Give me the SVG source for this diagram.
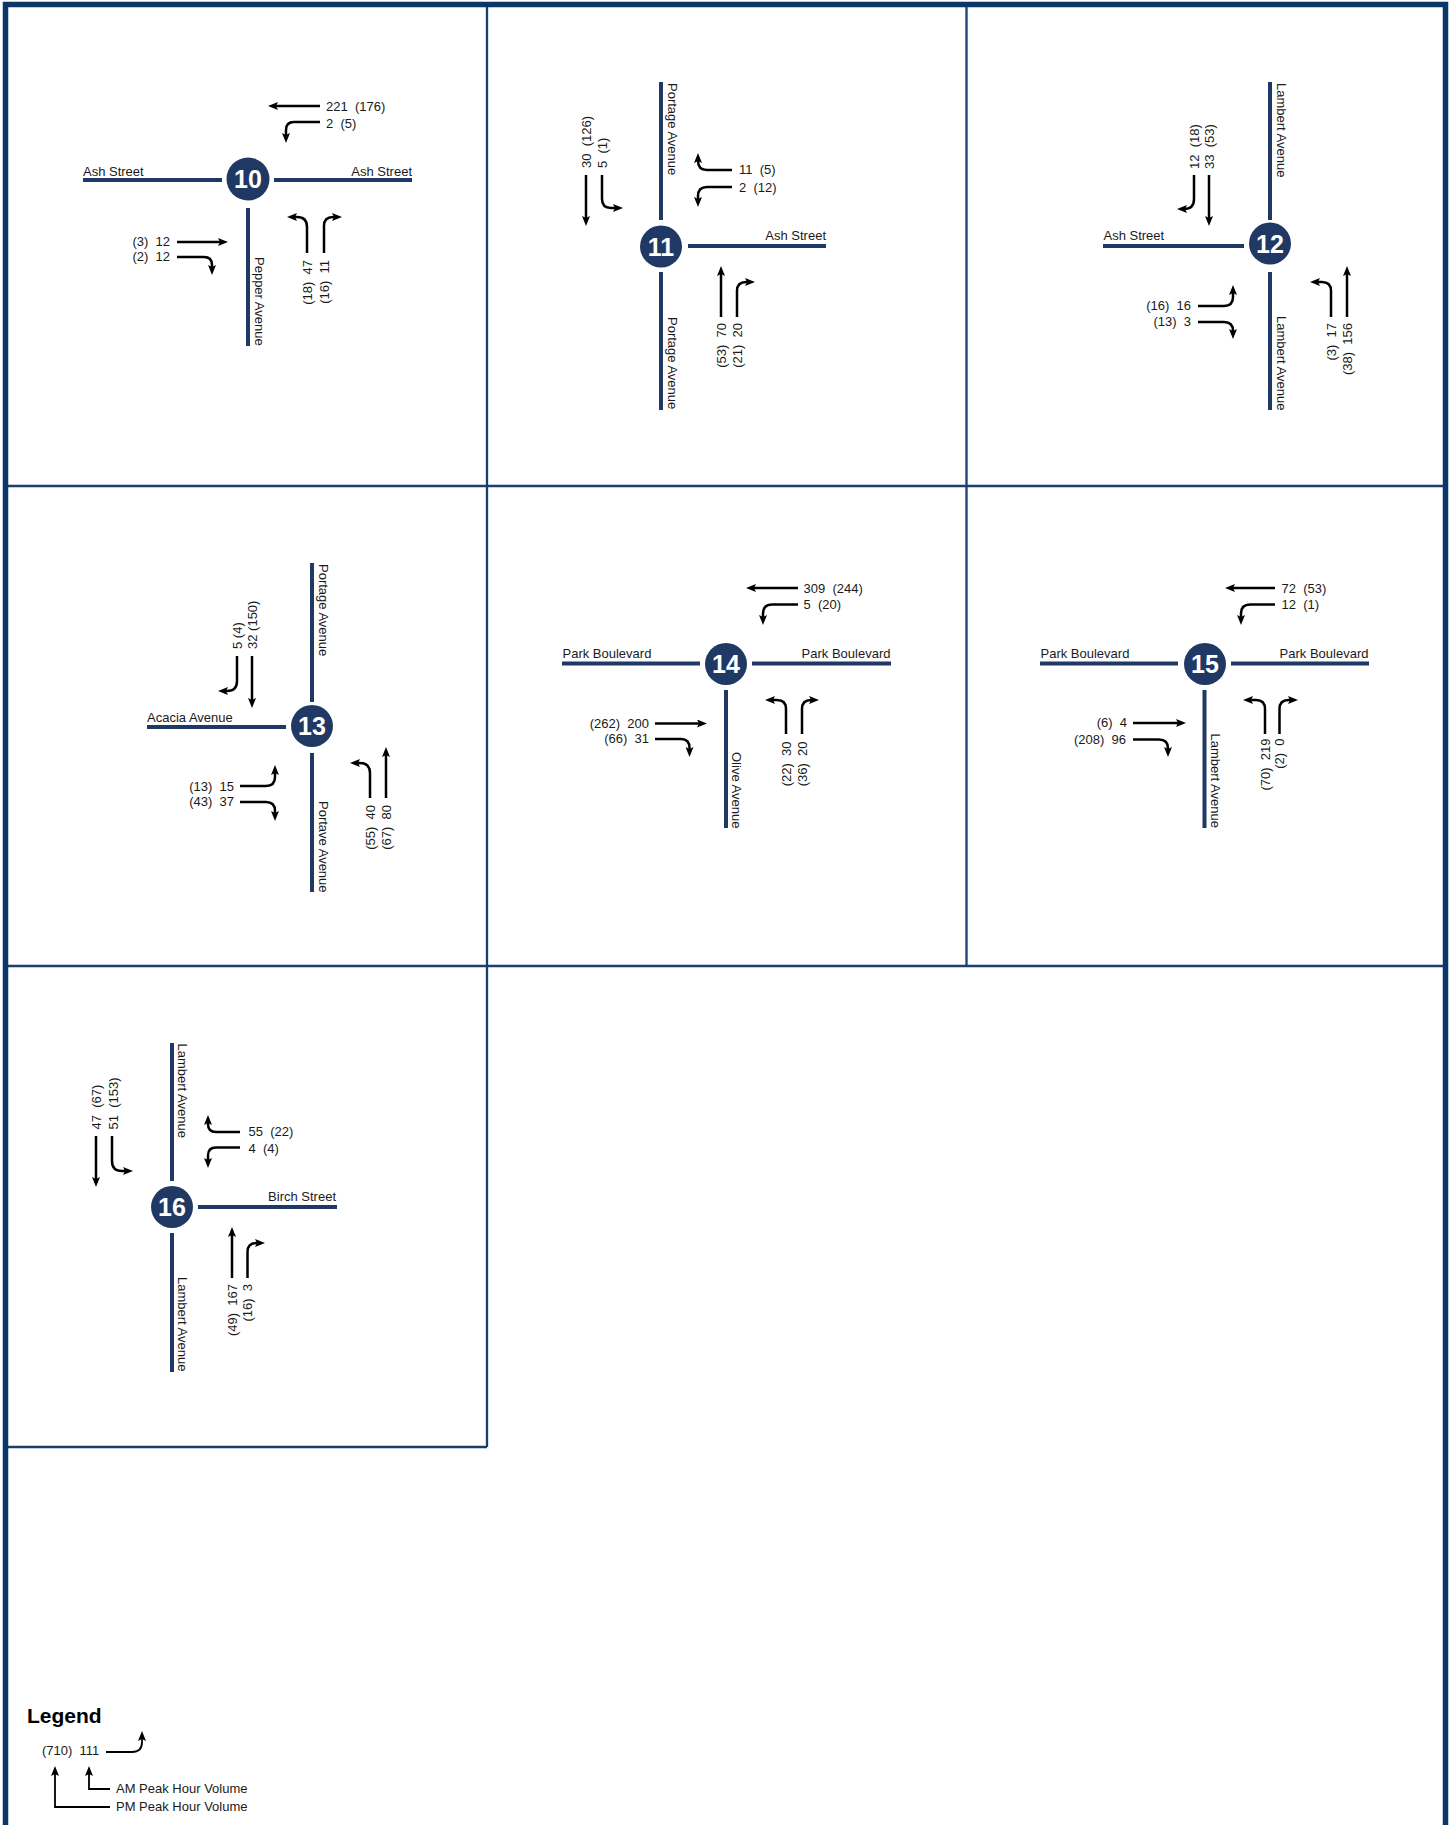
<svg xmlns="http://www.w3.org/2000/svg" width="1453" height="1825" viewBox="0 0 1453 1825">
<defs>
<style>
.road{stroke:#1f3864;stroke-width:4;fill:none}
.arr{stroke:#000;stroke-width:2.5;fill:none;marker-end:url(#ah)}
.arr2{stroke:#000;stroke-width:1.8;fill:none;marker-end:url(#ah)}
text{font-family:"Liberation Sans",Arial,sans-serif;font-size:13px;fill:#1a1a1a}
.e{text-anchor:end}
.badge{fill:#1f3864}
.bt{font-weight:bold;font-size:25px;fill:#fff;text-anchor:middle}
.frame{stroke:#0b3768;stroke-width:5.5;fill:none}
.grid{stroke:#1a3f6e;stroke-width:2.3;fill:none}
.leg{font-weight:bold;font-size:21px;fill:#000}
.lt{font-size:13px}
</style>
<marker id="ah" markerUnits="userSpaceOnUse" markerWidth="10" markerHeight="8" viewBox="0 0 10 8" refX="3" refY="4" orient="auto">
<path d="M0,0 L10,4 L0,8 L2,4 z" fill="#000"/>
</marker>
</defs>
<rect width="1453" height="1825" fill="#fff"/>

<g id="frame">
<path class="grid" d="M8,486 H1443 M8,966 H1443 M487,7 V1447 M966.5,7 V966 M8,1447 H487"/>
<path class="frame" d="M5.5,1825 V4.5 H1445.5 V1825"/>
</g>

<g id="connectors">
<!-- 10 -->
<path class="arr" d="M320,106 H275"/>
<path class="arr" d="M320,122 H294 Q286,122 286,130 V136"/>
<path class="arr" d="M177,242 H221"/>
<path class="arr" d="M177,257 H204 Q212,257 212,265 V268"/>
<path class="arr" d="M307,253 V227 Q307,217 297,217 H294"/>
<path class="arr" d="M324,253 V226 Q324,217 333,217 H335"/>
<!-- 11 -->
<path class="arr" d="M586,175 V219"/>
<path class="arr" d="M602,175 V199 Q602,208 611,208 H616"/>
<path class="arr" d="M732,170 H707 Q698,170 698,161 V160"/>
<path class="arr" d="M732,187 H707 Q698,187 698,196 V200"/>
<path class="arr" d="M721,317 V273"/>
<path class="arr" d="M737,317 V291 Q737,282 746,282 H748"/>
<!-- 12 -->
<path class="arr" d="M1194,175 V199 Q1194,209 1184,209"/>
<path class="arr" d="M1209,175 V219"/>
<path class="arr" d="M1198,306 H1224 Q1233,306 1233,297 V292"/>
<path class="arr" d="M1198,322 H1224 Q1233,322 1233,331 V332"/>
<path class="arr" d="M1331,317 V291 Q1331,282 1322,282 H1317"/>
<path class="arr" d="M1347,317 V273"/>
<!-- 13 -->
<path class="arr" d="M237,656 V681 Q237,691 227,691 H225"/>
<path class="arr" d="M252,656 V701"/>
<path class="arr" d="M240,786 H266 Q275,786 275,777 V772"/>
<path class="arr" d="M240,802 H266 Q275,802 275,811 V814"/>
<path class="arr" d="M370,798 V773 Q370,763 360,763 H357"/>
<path class="arr" d="M386,798 V754"/>
<!-- 14 -->
<path class="arr" d="M798,588 H753"/>
<path class="arr" d="M798,604.5 H772 Q763,604.5 763,613.5 V618"/>
<path class="arr" d="M655,723.5 H700"/>
<path class="arr" d="M655,739 H681 Q689.5,739 689.5,748 V750"/>
<path class="arr" d="M786,734 V709 Q786,700 777,700 H772"/>
<path class="arr" d="M802,734 V709 Q802,700 811,700 H812"/>
<!-- 15 -->
<path class="arr" d="M1275,588 H1232"/>
<path class="arr" d="M1275,604.5 H1250 Q1241,604.5 1241,613.5 V618"/>
<path class="arr" d="M1133,723 H1179"/>
<path class="arr" d="M1133,739.5 H1159 Q1168,739.5 1168,748.5 V750"/>
<path class="arr" d="M1265,734 V709 Q1265,700 1256,700 H1250"/>
<path class="arr" d="M1279.5,734 V709 Q1279.5,700 1288.5,700 H1291"/>
<!-- 16 -->
<path class="arr" d="M96,1136 V1180"/>
<path class="arr" d="M112,1136 V1161 Q112,1171 122,1171 H126"/>
<path class="arr" d="M240,1132 H216 Q208,1132 208,1124 V1122"/>
<path class="arr" d="M240,1147.5 H216 Q208,1147.5 208,1155.5 V1161"/>
<path class="arr" d="M232,1278 V1234"/>
<path class="arr" d="M247.5,1278 V1252 Q247.5,1243 256.5,1243 H258"/>
<!-- legend -->
<path class="arr2" d="M106,1752 H132 Q142,1752 142,1742 V1738"/>
<path class="arr2" d="M110,1807 H55 V1773"/>
<path class="arr2" d="M110,1789 H89 V1773"/>
</g>

<g id="int10">
<path class="road" d="M83,180 H222 M274,180 H412 M248,208 V346"/>
<circle class="badge" cx="248" cy="179" r="21.5"/>
<text class="bt" x="248" y="188">10</text>
<text x="83" y="175.5">Ash Street</text>
<text class="e" x="412" y="175.5">Ash Street</text>
<text transform="translate(254.5,257) rotate(90)">Pepper Avenue</text>
<text x="326" y="111">221&#160;&#160;(176)</text>
<text x="326" y="128">2&#160;&#160;(5)</text>
<text class="e" x="170" y="246">(3)&#160;&#160;12</text>
<text class="e" x="170" y="261">(2)&#160;&#160;12</text>
<text class="e" transform="translate(312,260) rotate(-90)">(18)&#160;&#160;47</text>
<text class="e" transform="translate(329,260) rotate(-90)">(16)&#160;&#160;11</text>
</g>

<g id="int11">
<path class="road" d="M661,82 V220 M661,272 V410 M688,246 H826"/>
<circle class="badge" cx="661" cy="246.5" r="21"/>
<text class="bt" x="661" y="255.5">11</text>
<text transform="translate(667.5,83) rotate(90)">Portage Avenue</text>
<text transform="translate(667.5,317) rotate(90)">Portage Avenue</text>
<text class="e" x="826" y="239.5">Ash Street</text>
<text transform="translate(591,168) rotate(-90)">30&#160;&#160;(126)</text>
<text transform="translate(607,168) rotate(-90)">5&#160;&#160;(1)</text>
<text x="739" y="174">11&#160;&#160;(5)</text>
<text x="739" y="191.5">2&#160;&#160;(12)</text>
<text class="e" transform="translate(726,323) rotate(-90)">(53)&#160;&#160;70</text>
<text class="e" transform="translate(741.5,323) rotate(-90)">(21)&#160;&#160;20</text>
</g>

<g id="int12">
<path class="road" d="M1270,82 V220 M1270,272 V410 M1103,246 H1244"/>
<circle class="badge" cx="1270" cy="243.5" r="21"/>
<text class="bt" x="1270" y="252.5">12</text>
<text transform="translate(1276.5,83) rotate(90)">Lambert Avenue</text>
<text transform="translate(1276.5,316) rotate(90)">Lambert Avenue</text>
<text x="1103.5" y="239.5">Ash Street</text>
<text transform="translate(1198.7,169) rotate(-90)">12&#160;&#160;(18)</text>
<text transform="translate(1214,169) rotate(-90)">33&#160;&#160;(53)</text>
<text class="e" x="1191" y="309.5">(16)&#160;&#160;16</text>
<text class="e" x="1191" y="325.5">(13)&#160;&#160;3</text>
<text class="e" transform="translate(1335.5,323) rotate(-90)">(3)&#160;&#160;17</text>
<text class="e" transform="translate(1351.5,323) rotate(-90)">(38)&#160;&#160;156</text>
</g>

<g id="int13">
<path class="road" d="M312,563 V702 M312,753 V892 M147,727 H286"/>
<circle class="badge" cx="312" cy="726" r="21"/>
<text class="bt" x="312" y="735">13</text>
<text transform="translate(318.5,564) rotate(90)">Portage Avenue</text>
<text transform="translate(318.5,801) rotate(90)">Portave Avenue</text>
<text x="147" y="721.5">Acacia Avenue</text>
<text transform="translate(241.5,649) rotate(-90)">5 (4)</text>
<text transform="translate(257,649) rotate(-90)">32 (150)</text>
<text class="e" x="234" y="790.5">(13)&#160;&#160;15</text>
<text class="e" x="234" y="805.5">(43)&#160;&#160;37</text>
<text class="e" transform="translate(375,805) rotate(-90)">(55)&#160;&#160;40</text>
<text class="e" transform="translate(391,805) rotate(-90)">(67)&#160;&#160;80</text>
</g>

<g id="int14">
<path class="road" d="M562,663.5 H700 M752,663.5 H891 M726,690 V828"/>
<circle class="badge" cx="726" cy="664" r="21"/>
<text class="bt" x="726" y="673">14</text>
<text x="562.5" y="658">Park Boulevard</text>
<text class="e" x="890.5" y="658">Park Boulevard</text>
<text transform="translate(732,752) rotate(90)">Olive Avenue</text>
<text x="803.5" y="592.5">309&#160;&#160;(244)</text>
<text x="803.5" y="609">5&#160;&#160;(20)</text>
<text class="e" x="649" y="727.5">(262)&#160;&#160;200</text>
<text class="e" x="649" y="743">(66)&#160;&#160;31</text>
<text class="e" transform="translate(790.5,741.5) rotate(-90)">(22)&#160;&#160;30</text>
<text class="e" transform="translate(806.5,741.5) rotate(-90)">(36)&#160;&#160;20</text>
</g>

<g id="int15">
<path class="road" d="M1040,663.5 H1178 M1231,663.5 H1369 M1204.5,690 V828"/>
<circle class="badge" cx="1205" cy="664" r="21"/>
<text class="bt" x="1205" y="673">15</text>
<text x="1040.5" y="658">Park Boulevard</text>
<text class="e" x="1368.5" y="658">Park Boulevard</text>
<text transform="translate(1211,733.5) rotate(90)">Lambert Avenue</text>
<text x="1281.5" y="592.5">72&#160;&#160;(53)</text>
<text x="1281.5" y="609">12&#160;&#160;(1)</text>
<text class="e" x="1127" y="727">(6)&#160;&#160;4</text>
<text class="e" x="1126" y="743.5">(208)&#160;&#160;96</text>
<text class="e" transform="translate(1269.5,738.5) rotate(-90)">(70)&#160;&#160;219</text>
<text class="e" transform="translate(1284,738.5) rotate(-90)">(2)&#160;&#160;0</text>
</g>

<g id="int16">
<path class="road" d="M172,1043 V1181 M172,1233 V1372 M198,1207 H337"/>
<circle class="badge" cx="172" cy="1207" r="21"/>
<text class="bt" x="172" y="1216">16</text>
<text transform="translate(178,1043.5) rotate(90)">Lambert Avenue</text>
<text transform="translate(178,1277) rotate(90)">Lambert Avenue</text>
<text class="e" x="336" y="1201">Birch Street</text>
<text transform="translate(101,1129.5) rotate(-90)">47&#160;&#160;(67)</text>
<text transform="translate(117.5,1129.5) rotate(-90)">51&#160;&#160;(153)</text>
<text x="248.5" y="1136">55&#160;&#160;(22)</text>
<text x="248.5" y="1152.5">4&#160;&#160;(4)</text>
<text class="e" transform="translate(236.5,1284) rotate(-90)">(49)&#160;&#160;167</text>
<text class="e" transform="translate(252,1284) rotate(-90)">(16)&#160;&#160;3</text>
</g>

<g id="legend">
<text class="leg" x="27" y="1723">Legend</text>
<text x="42" y="1755">(710)&#160;&#160;111</text>
<text class="lt" x="116" y="1793">AM Peak Hour Volume</text>
<text class="lt" x="116" y="1811">PM Peak Hour Volume</text>
</g>
</svg>
